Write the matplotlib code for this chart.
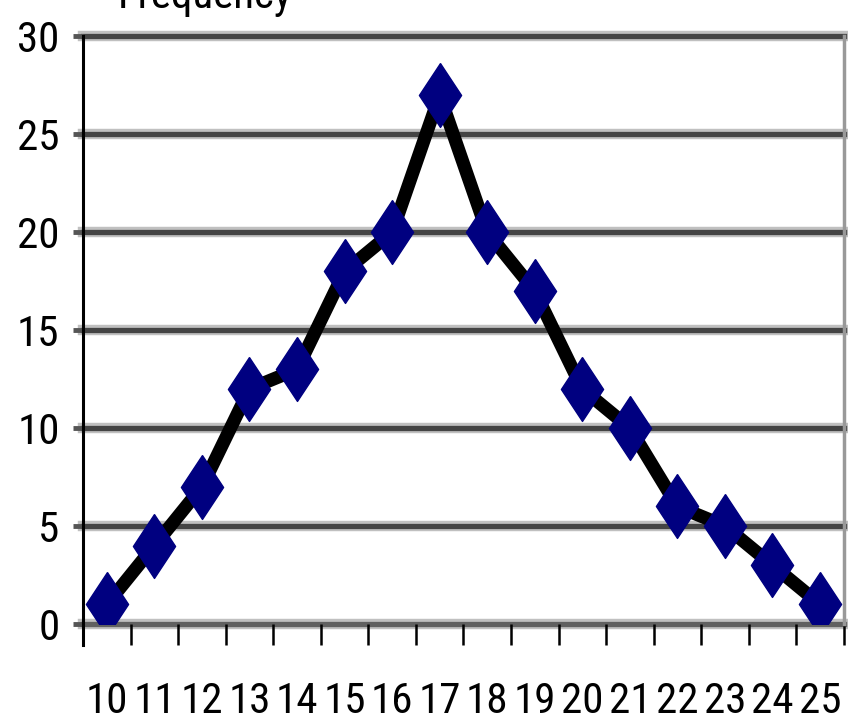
import matplotlib

matplotlib.use("Agg")
import matplotlib.pyplot as plt
from matplotlib import font_manager

scores = [10, 11, 12, 13, 14, 15, 16, 17, 18, 19, 20, 21, 22, 23, 24, 25]
frequency = [1, 4, 7, 12, 13, 18, 20, 27, 20, 17, 12, 10, 6, 5, 3, 1]
y_ticks = [0, 5, 10, 15, 20, 25, 30]
title_text = "Frequency"

# prefer a condensed face if the box has one, the reference text is very narrow
installed = {f.name for f in font_manager.fontManager.ttflist}
narrow = [n for n in ["Liberation Sans Narrow", "Roboto Condensed", "DejaVu Sans Condensed"] if n in installed]
if narrow:
    plt.rcParams["font.family"] = [narrow[0], "DejaVu Sans"]
    font_size = 31
else:
    plt.rcParams["font.family"] = ["Liberation Sans", "DejaVu Sans"]
    font_size = 26

fig = plt.figure(figsize=(8.48, 7.28), dpi=100)
ax = fig.add_axes([0.098, 0.143, 0.897, 0.807])

# gridlines: dark band with light shadow
for y in y_ticks:
    ax.axhline(y, color="#c0c0c0", lw=7.5, zorder=1, clip_on=False)
    ax.axhline(y, color="#444444" if y else "#606060", lw=3.8, zorder=1.5, clip_on=False)

diamond = [(0, 1), (0.66, 0), (0, -1), (-0.66, 0), (0, 1)]
ax.plot(scores, frequency, color="black", lw=9.5, zorder=3, solid_joinstyle="miter")
ax.plot(scores, frequency, ls="none", marker=diamond, markersize=46,
        markerfacecolor="#000080", markeredgecolor="#000080", zorder=4)

ax.set_xlim(scores[0] - 0.5, scores[-1] + 0.5)
ax.set_ylim(0, 30)

for side in ["top", "bottom"]:
    ax.spines[side].set_visible(False)
ax.spines["left"].set_color("black")
ax.spines["left"].set_linewidth(2.2)
ax.spines["left"].set_bounds(-1.1, 30)
ax.spines["right"].set_color("#999999")
ax.spines["right"].set_linewidth(2.5)

ax.set_yticks(y_ticks)
ax.set_yticklabels([str(v) for v in y_ticks])
ax.tick_params(axis="y", length=7, width=3.5, color="#555555", pad=10, labelsize=font_size)

# minor ticks at category boundaries, major labels at centres
ax.set_xticks(scores)
ax.set_xticklabels([str(s) for s in scores])
ax.set_xticks([s - 0.5 for s in scores] + [scores[-1] + 0.5], minor=True)
ax.tick_params(axis="x", which="major", length=0, pad=41, labelsize=font_size)
ax.tick_params(axis="x", which="minor", length=15, width=1.8, color="black")

fig.text(0.139, 1 - 8 / 728, title_text, fontsize=font_size, ha="left", va="baseline")

fig.savefig("out.png", dpi=100)
